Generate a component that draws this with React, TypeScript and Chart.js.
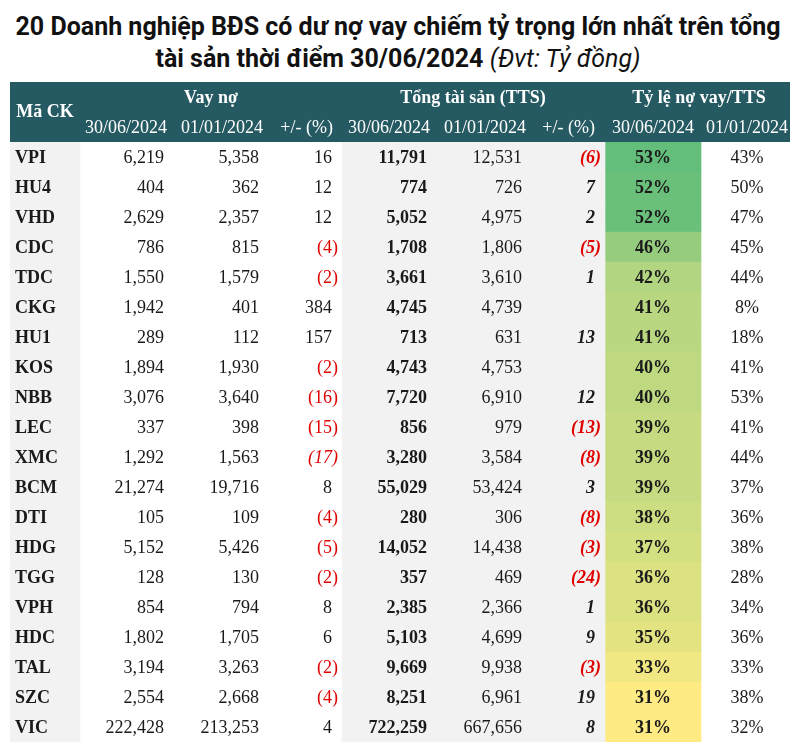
import React, { useEffect, useRef } from "react";
import { Chart, registerables } from "chart.js";

Chart.register(...registerables);

// ---------- data ----------
const tickers = ["VPI", "HU4", "VHD", "CDC", "TDC", "CKG", "HU1", "KOS", "NBB", "LEC", "XMC", "BCM", "DTI", "HDG", "TGG", "VPH", "HDC", "TAL", "SZC", "VIC"];
const debt2406 = [6219, 404, 2629, 786, 1550, 1942, 289, 1894, 3076, 337, 1292, 21274, 105, 5152, 128, 854, 1802, 3194, 2554, 222428];
const debt2401 = [5358, 362, 2357, 815, 1579, 401, 112, 1930, 3640, 398, 1563, 19716, 109, 5426, 130, 794, 1705, 3263, 2668, 213253];
const debtChg = [16, 12, 12, -4, -2, 384, 157, -2, -16, -15, -17, 8, -4, -5, -2, 8, 6, -2, -4, 4];
const assets2406 = [11791, 774, 5052, 1708, 3661, 4745, 713, 4743, 7720, 856, 3280, 55029, 280, 14052, 357, 2385, 5103, 9669, 8251, 722259];
const assets2401 = [12531, 726, 4975, 1806, 3610, 4739, 631, 4753, 6910, 979, 3584, 53424, 306, 14438, 469, 2366, 4699, 9938, 6961, 667656];
const assetsChg: (number | null)[] = [-6, 7, 2, -5, 1, null, 13, null, 12, -13, -8, 3, -8, -3, -24, 1, 9, -3, 19, 8];
const ratio2406 = [53, 52, 52, 46, 42, 41, 41, 40, 40, 39, 39, 39, 38, 37, 36, 36, 35, 33, 31, 31];
const ratio2401 = [43, 50, 47, 45, 44, 8, 18, 41, 53, 41, 44, 37, 36, 38, 28, 34, 36, 33, 38, 32];

const groupHeaders = ["Mã CK", "Vay nợ", "Tổng tài sản (TTS)", "Tỷ lệ nợ vay/TTS"];
const dateHeaders = ["30/06/2024", "01/01/2024", "+/- (%)", "30/06/2024", "01/01/2024", "+/- (%)", "30/06/2024", "01/01/2024"];

// ---------- layout / style ----------
const SERIF = '"Liberation Serif", "DejaVu Serif", serif';
const HEADER_BG = "#265a63";
const GREY = "#f2f2f2";
const RED = "#e00000";
const INK = "#1a1a1a";
const TABLE_W = 780;
const HEADER_H = 60;

const fmt = (v: number) => Math.abs(v).toLocaleString("en-US");

function ratioColor(v: number) {
  const mn = Math.min(...ratio2406);
  const mx = Math.max(...ratio2406);
  const f = (v - mn) / (mx - mn);
  const lo = [255, 235, 132];
  const hi = [99, 190, 123];
  const c = lo.map((l, k) => Math.round(l + (hi[k] - l) * f));
  return `rgb(${c[0]},${c[1]},${c[2]})`;
}

const tablePlugin = {
  id: "tableText",
  beforeDatasetsDraw(chart: any) {
    const { ctx, chartArea, scales } = chart;
    const x = scales.x;
    ctx.save();
    ctx.fillStyle = HEADER_BG;
    ctx.fillRect(x.getPixelForValue(0), chartArea.top - HEADER_H, x.getPixelForValue(TABLE_W) - x.getPixelForValue(0), HEADER_H);
    ctx.restore();
  },
  afterDatasetsDraw(chart: any) {
    const { ctx, chartArea, scales } = chart;
    const X = (v: number) => scales.x.getPixelForValue(v);
    const top = chartArea.top;
    ctx.save();
    ctx.textBaseline = "middle";

    // header row 1
    ctx.fillStyle = "#ffffff";
    ctx.font = `bold 18px ${SERIF}`;
    ctx.textAlign = "center";
    ctx.fillText(groupHeaders[0], X(35), top - 30);
    ctx.fillText(groupHeaders[1], X(201), top - 44);
    ctx.fillText(groupHeaders[2], X(463), top - 44);
    ctx.fillText(groupHeaders[3], X(689), top - 44);

    // header row 2
    ctx.font = `18px ${SERIF}`;
    const hPos: [number, string][] = [
      [157, "right"], [253, "right"], [323, "right"], [420, "right"], [516, "right"], [585, "right"], [643, "center"], [737, "center"],
    ];
    dateHeaders.forEach((t, k) => {
      ctx.textAlign = hPos[k][1];
      ctx.fillText(t, X(hPos[k][0]), top - 14);
    });

    // body
    const drawChg = (v: number | null, right: number, font: string, y: number) => {
      if (v === null) return;
      ctx.font = font;
      ctx.textAlign = "right";
      if (v < 0) {
        ctx.fillStyle = RED;
        ctx.fillText(`(${fmt(v)})`, X(right), y);
      } else {
        ctx.fillStyle = INK;
        const pw = ctx.measureText(")").width;
        ctx.fillText(fmt(v), X(right) - pw, y);
      }
    };

    tickers.forEach((t, i) => {
      const y = scales.y.getPixelForValue(i) + 1.5;
      ctx.fillStyle = INK;
      ctx.font = `bold 18px ${SERIF}`;
      ctx.textAlign = "left";
      ctx.fillText(t, X(5), y);

      ctx.font = `18px ${SERIF}`;
      ctx.textAlign = "right";
      ctx.fillText(fmt(debt2406[i]), X(154), y);
      ctx.fillText(fmt(debt2401[i]), X(249), y);
      drawChg(debtChg[i], 328, t === "XMC" ? `italic 18px ${SERIF}` : `18px ${SERIF}`, y);

      ctx.fillStyle = INK;
      ctx.font = `bold 18px ${SERIF}`;
      ctx.textAlign = "right";
      ctx.fillText(fmt(assets2406[i]), X(417), y);
      ctx.font = `18px ${SERIF}`;
      ctx.fillText(fmt(assets2401[i]), X(512), y);
      drawChg(assetsChg[i], 591, `italic bold 18px ${SERIF}`, y);

      ctx.fillStyle = INK;
      ctx.textAlign = "center";
      ctx.font = `bold 18px ${SERIF}`;
      ctx.fillText(`${ratio2406[i]}%`, X(643), y);
      ctx.font = `18px ${SERIF}`;
      ctx.fillText(`${ratio2401[i]}%`, X(737), y);
    });
    ctx.restore();
  },
};

export default function App() {
  const ref = useRef<HTMLCanvasElement | null>(null);

  useEffect(() => {
    if (!ref.current) return;
    const chart = new Chart(ref.current, {
      type: "bar",
      data: {
        labels: tickers,
        datasets: [
          {
            label: "Mã CK",
            data: tickers.map(() => [0, 70]) as any,
            backgroundColor: GREY,
          },
          {
            label: "Tổng tài sản",
            data: tickers.map(() => [332, 595]) as any,
            backgroundColor: GREY,
          },
          {
            label: "Tỷ lệ nợ vay/TTS",
            data: ratio2406.map(() => [595, 691]) as any,
            backgroundColor: ratio2406.map(ratioColor),
          },
        ],
      },
      options: {
        indexAxis: "y",
        animation: false,
        responsive: false,
        maintainAspectRatio: false,
        layout: { padding: { top: HEADER_H + 2, left: 10, right: 6, bottom: 1 } },
        datasets: { bar: { barPercentage: 1, categoryPercentage: 1, grouped: false, borderWidth: 0 } } as any,
        scales: {
          x: { type: "linear", min: 0, max: TABLE_W, display: false },
          y: { type: "category", display: false },
        },
        plugins: {
          legend: { display: false },
          tooltip: { enabled: false },
          title: { display: false },
        },
      } as any,
      plugins: [tablePlugin],
    });
    return () => chart.destroy();
  }, []);

  return (
    <div style={{ position: "absolute", left: 0, top: 0, width: 796, height: 743, background: "#ffffff" }}>
      <div
        style={{
          position: "absolute",
          left: 0,
          top: 11,
          width: 796,
          textAlign: "center",
          fontFamily: "Roboto, 'Noto Sans', sans-serif",
          fontWeight: 700,
          fontSize: 25,
          lineHeight: "32px",
          color: "#111111",
        }}
      >
        <div>20 Doanh nghiệp BĐS có dư nợ vay chiếm tỷ trọng lớn nhất trên tổng</div>
        <div>
          tài sản thời điểm 30/06/2024 <span style={{ fontStyle: "italic", fontWeight: 400 }}>(Đvt: Tỷ đồng)</span>
        </div>
      </div>
      <canvas ref={ref} width={796} height={663} style={{ position: "absolute", left: 0, top: 80, width: 796, height: 663 }} />
    </div>
  );
}
